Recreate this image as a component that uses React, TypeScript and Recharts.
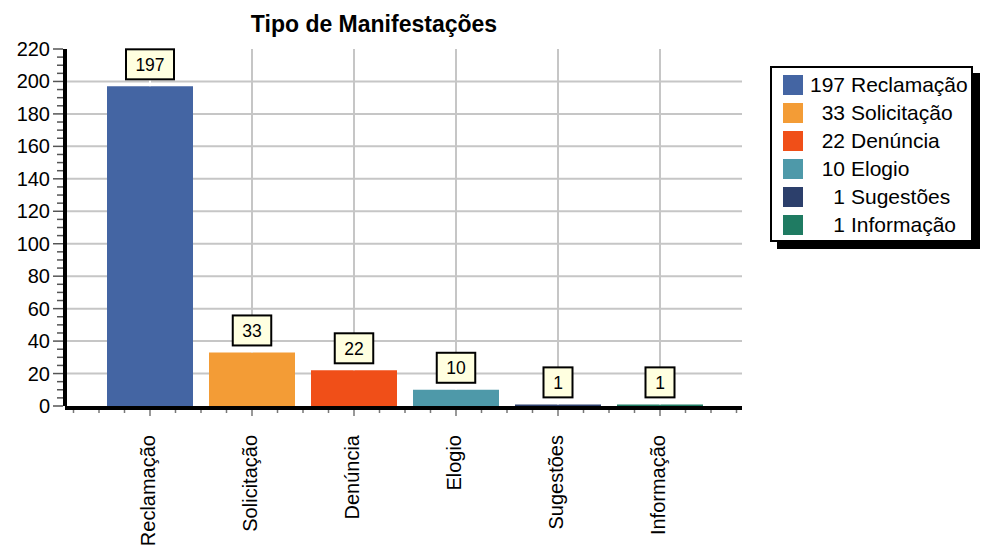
import { BarChart, Bar, XAxis, YAxis, CartesianGrid, Cell, LabelList } from "recharts";

const categories = ["Reclamação", "Solicitação", "Denúncia", "Elogio", "Sugestões", "Informação"];
const counts = [197, 33, 22, 10, 1, 1];
const colors = ["#4465A3", "#F39C36", "#F04F18", "#4E99A9", "#2C3F6B", "#1F7B62"];
const majorTicks = [0, 20, 40, 60, 80, 100, 120, 140, 160, 180, 200, 220];
const gridValues = [20, 40, 60, 80, 100, 120, 140, 160, 180, 200];
const Y_MAX = 220;

const FONT = '"Liberation Sans", Arial, sans-serif';
const W = 986;
const H = 540;
const PLOT_TOP = 41;
const X_AXIS_H = 130;
const BOTTOM = 12;
const PLOT_H = H - PLOT_TOP - X_AXIS_H - BOTTOM;
const PLOT_LEFT = 57;
const PLOT_RIGHT = 734;
const PAD_L = 34;
const PAD_R = 31;
const SLOT = (PLOT_RIGHT - PLOT_LEFT - PAD_L - PAD_R) / categories.length;

// ticks every 5 between the labelled ones
const minorStep = 5;
const yTicks: number[] = [];
for (let v = 0; v <= Y_MAX; v += minorStep) yTicks.push(v);

const data = categories.map((name, i) => ({ name, value: counts[i] }));

const hLines = gridValues.map((v) => PLOT_TOP + PLOT_H * (1 - v / Y_MAX));
const vLines = categories.map((_, i) => PLOT_LEFT + PAD_L + SLOT * (i + 0.5));

function YTick(props: any) {
  const { x, y, payload } = props;
  const major = majorTicks.includes(payload.value);
  return (
    <g>
      <line x1={x - 2} x2={x - (major ? 12 : 8)} y1={y} y2={y} stroke="#555" strokeWidth={1.5} />
      {major && (
        <text x={x - 15} y={y} dy="0.35em" textAnchor="end" fontSize={20} fontFamily={FONT} fill="#000">
          {payload.value}
        </text>
      )}
    </g>
  );
}

function XTick(props: any) {
  const { x, y, payload, index } = props;
  const q = SLOT / 4;
  const minors = [-q, q, 2 * q];
  if (index === 0) minors.push(-2 * q, -3 * q);
  if (index === categories.length - 1) minors.push(3 * q);
  return (
    <g>
      <line x1={x} x2={x} y1={y + 4} y2={y + 10} stroke="#777" strokeWidth={1.5} />
      {minors.map((d, i) => (
        <line key={i} x1={x + d} x2={x + d} y1={y + 4} y2={y + 7} stroke="#777" strokeWidth={1.5} />
      ))}
      <text
        x={x}
        y={y + 29}
        transform={`rotate(-90, ${x}, ${y + 29})`}
        textAnchor="end"
        dy={5}
        fontSize={20}
        fontFamily={FONT}
        fill="#000"
      >
        {payload.value}
      </text>
    </g>
  );
}

function ValueBox(props: any) {
  const { x, y, width, value } = props;
  const cx = x + width / 2;
  const label = String(value);
  const bw = label.length * 9.5 + 19.5;
  const bh = 30;
  const bottom = y - 7;
  return (
    <g>
      <line x1={cx} x2={cx} y1={bottom} y2={y} stroke="#fff" strokeWidth={2} />
      <rect x={cx - bw / 2} y={bottom - bh} width={bw} height={bh} fill="#FFFFE0" stroke="#000" strokeWidth={2} />
      <text x={cx} y={bottom - bh / 2} dy="0.36em" textAnchor="middle" fontSize={17.5} fontFamily={FONT} fill="#000">
        {label}
      </text>
    </g>
  );
}

export default function App() {
  return (
    <div style={{ position: "relative", width: W, height: H, fontFamily: FONT }}>
      <div
        style={{
          position: "absolute",
          top: 5,
          left: 366,
          transform: "translateX(-50%)",
          fontSize: 23,
          lineHeight: "23px",
          fontWeight: "bold",
          whiteSpace: "nowrap",
        }}
      >
        Tipo de Manifestações
      </div>
      <BarChart
        width={W}
        height={H}
        data={data}
        margin={{ top: PLOT_TOP, right: W - PLOT_RIGHT, bottom: BOTTOM, left: PLOT_LEFT - 50 }}
      >
        <CartesianGrid stroke="#c6c6c6" strokeWidth={2} horizontalPoints={hLines} verticalPoints={vLines} />
        <XAxis
          dataKey="name"
          height={X_AXIS_H}
          interval={0}
          padding={{ left: PAD_L, right: PAD_R }}
          axisLine={{ stroke: "#000", strokeWidth: 4, transform: "translate(0, 2)" }}
          tickLine={false}
          tickSize={0}
          tickMargin={0}
          tick={<XTick />}
        />
        <YAxis
          width={50}
          domain={[0, Y_MAX]}
          ticks={yTicks}
          interval={0}
          axisLine={{ stroke: "#000", strokeWidth: 4 }}
          tickLine={false}
          tickSize={0}
          tickMargin={0}
          tick={<YTick />}
        />
        <Bar dataKey="value" barSize={86} isAnimationActive={false}>
          {data.map((d, i) => (
            <Cell key={d.name} fill={colors[i]} />
          ))}
          <LabelList dataKey="value" content={<ValueBox />} />
        </Bar>
      </BarChart>
      <div
        style={{
          position: "absolute",
          left: 762,
          top: 58,
          width: 203,
          height: 176,
          boxSizing: "border-box",
          border: "2px solid #000",
          boxShadow: "7px 7px 0 #000",
          background: "#fff",
          paddingTop: 3,
          paddingLeft: 11,
          fontSize: 21,
        }}
      >
        {categories.map((name, i) => (
          <div key={name} style={{ display: "flex", alignItems: "center", height: 28, whiteSpace: "nowrap" }}>
            <span style={{ width: 20, height: 20, background: colors[i], display: "inline-block" }} />
            <span style={{ width: 35, marginLeft: 7, textAlign: "right" }}>{counts[i]}</span>
            <span style={{ marginLeft: 6 }}>{name}</span>
          </div>
        ))}
      </div>
    </div>
  );
}
